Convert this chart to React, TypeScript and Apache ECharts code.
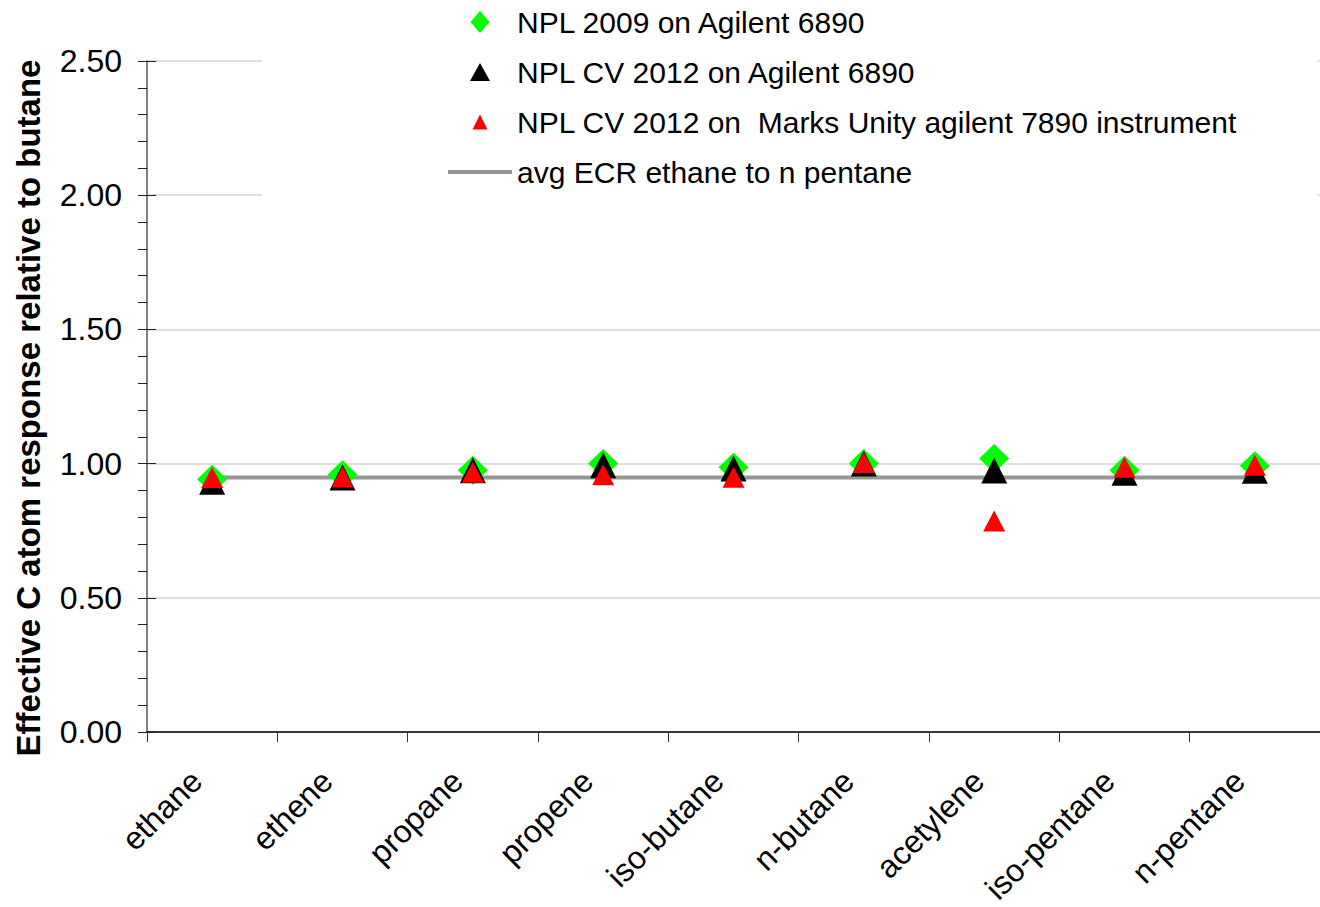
import React, { useEffect, useRef } from "react";
import * as echarts from "echarts";

const categories = ["ethane", "ethene", "propane", "propene", "iso-butane", "n-butane", "acetylene", "iso-pentane", "n-pentane"];
const npl2009 = [0.942, 0.958, 0.975, 1.0, 0.986, 1.0, 1.019, 0.975, 0.992];
const nplCv2012 = [0.932, 0.948, 0.975, 0.994, 0.982, 1.0, 0.974, 0.966, 0.973];
const nplCv2012Unity = [0.948, 0.95, 0.968, 0.958, 0.949, 1.004, 0.786, 0.986, 0.994];
const avgEcr = [0.948, 0.948, 0.948, 0.948, 0.948, 0.948, 0.948, 0.948, 0.948];

const S1 = "NPL 2009 on Agilent 6890";
const S2 = "NPL CV 2012 on Agilent 6890";
const S3 = "NPL CV 2012 on  Marks Unity agilent 7890 instrument";
const S4 = "avg ECR ethane to n pentane";
const FONT = "'Liberation Sans', Arial, sans-serif";

// legend icons in a common 24x24 box (leading moveTo points fix the box)
const ICON_DIAMOND = "path://M0,0 M24,24 M12,1 L21.5,12 L12,23 L2.5,12 Z";
const ICON_TRI_BLACK = "path://M0,0 M24,24 M12,3 L22,21 L2,21 Z";
const ICON_TRI_RED = "path://M0,0 M24,24 M12,4.5 L19.5,19.5 L4.5,19.5 Z";

export default function App() {
  const ref = useRef<HTMLDivElement>(null);
  useEffect(() => {
    if (!ref.current) return;
    const chart = echarts.init(ref.current, null, { renderer: "svg" });
    const yCommon = {
      type: "value" as const,
      min: 0,
      max: 2.5,
      interval: 0.5,
    };
    chart.setOption({
      animation: false,
      backgroundColor: "#fff",
      textStyle: { fontFamily: FONT },
      grid: { left: 147, right: 0, top: 61, bottom: 175, containLabel: false, outerBoundsMode: "none" },
      legend: {
        orient: "vertical",
        left: 262,
        top: 0,
        padding: [7, 80, 16, 184],
        backgroundColor: "#fff",
        itemWidth: 64,
        itemHeight: 24,
        itemGap: 20,
        symbolKeepAspect: true,
        textStyle: { fontSize: 30, fontFamily: FONT, color: "#000", lineHeight: 30 },
        data: [
          { name: S1, icon: ICON_DIAMOND },
          { name: S2, icon: ICON_TRI_BLACK },
          { name: S3, icon: ICON_TRI_RED },
          { name: S4, itemStyle: { opacity: 0 }, lineStyle: { width: 4, color: "#969696" } },
        ],
      },
      xAxis: {
        type: "category",
        data: categories,
        boundaryGap: true,
        axisLine: { lineStyle: { color: "#000", width: 1.5 } },
        axisTick: { show: true, interval: 0, length: 10, lineStyle: { color: "#333" } },
        axisLabel: {
          rotate: 45,
          interval: 0,
          margin: 28,
          fontSize: 32,
          color: "#000",
          fontFamily: FONT,
          padding: [0, 22, 0, 0],
        },
        splitLine: { show: false },
      },
      yAxis: [
        {
          ...yCommon,
          axisLine: { show: true, lineStyle: { color: "#808080", width: 2 } },
          axisTick: { show: true, length: 9, lineStyle: { color: "#222" } },
          minorTick: { show: true, splitNumber: 5, length: 9, lineStyle: { color: "#222" } },
          axisLabel: {
            formatter: (v: number) => v.toFixed(2),
            fontSize: 32,
            color: "#000",
            margin: 25,
            fontFamily: FONT,
          },
          splitLine: { show: true, lineStyle: { color: "#d4d4d4", width: 1.5 } },
        },
        {
          ...yCommon,
          position: "left",
          axisLine: { show: false },
          axisTick: { show: true, inside: true, length: 9, lineStyle: { color: "#222" } },
          axisLabel: { show: false },
          splitLine: { show: false },
        },
      ],
      graphic: [
        {
          type: "text",
          x: 28,
          y: 408,
          rotation: Math.PI / 2,
          style: {
            text: "Effective C atom response relative to butane",
            font: `bold 33px ${FONT}`,
            fill: "#000",
            align: "center",
            verticalAlign: "middle",
          },
        },
      ],
      series: [
        {
          name: S4,
          type: "line",
          data: avgEcr,
          showSymbol: false,
          symbol: "none",
          lineStyle: { color: "#969696", width: 4 },
          itemStyle: { color: "#969696" },
          z: 1,
        },
        {
          name: S1,
          type: "scatter",
          data: npl2009,
          symbol: "diamond",
          symbolSize: [30, 29],
          itemStyle: { color: "#00ff00", opacity: 1 },
          z: 2,
        },
        {
          name: S2,
          type: "scatter",
          data: nplCv2012,
          symbol: "triangle",
          symbolSize: [26, 26],
          itemStyle: { color: "#000000", opacity: 1 },
          z: 3,
        },
        {
          name: S3,
          type: "scatter",
          data: nplCv2012Unity,
          symbol: "triangle",
          symbolSize: [22, 21],
          itemStyle: { color: "#ff0000", opacity: 1 },
          z: 4,
        },
      ],
    });
    return () => chart.dispose();
  }, []);
  return (
    <div
      ref={ref}
      style={{ position: "absolute", left: 0, top: 0, width: 1320, height: 907, background: "#fff" }}
    />
  );
}
